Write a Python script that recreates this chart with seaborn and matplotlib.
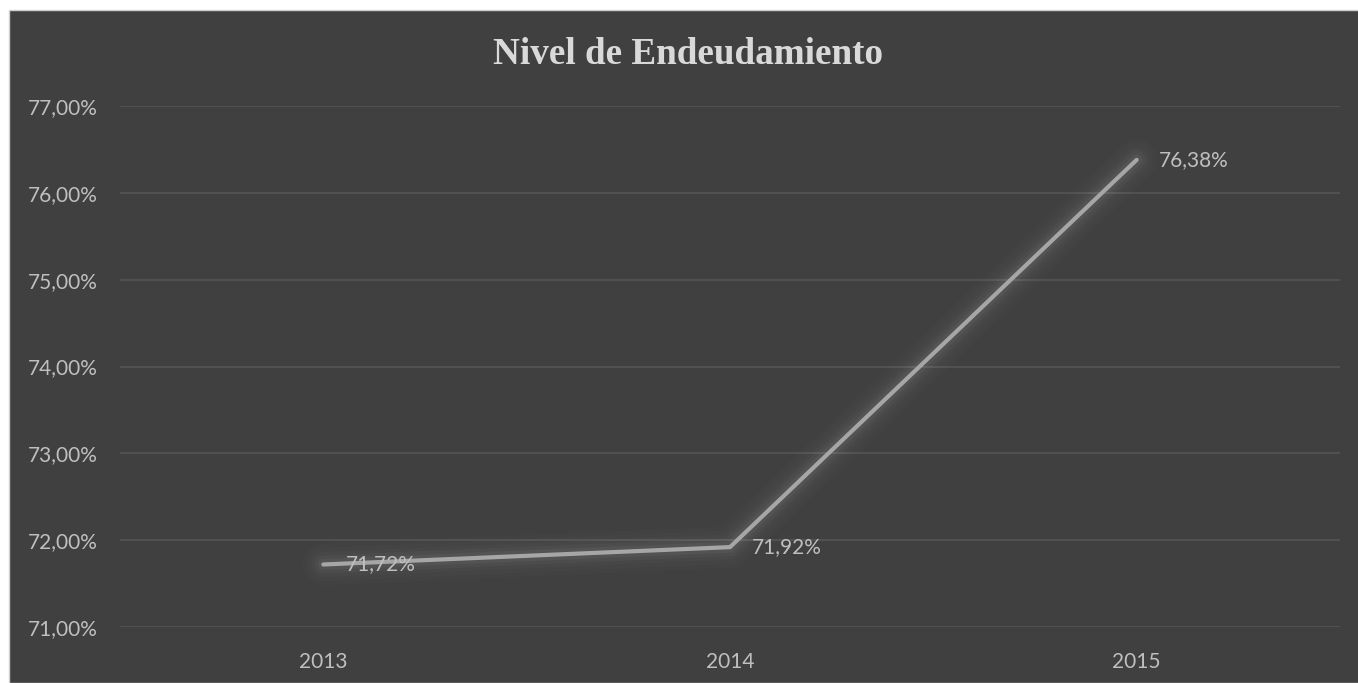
import pandas as pd
import matplotlib
matplotlib.use('Agg')
import matplotlib.pyplot as plt
import matplotlib.patheffects as pe
from matplotlib.patches import Rectangle
from matplotlib.ticker import FuncFormatter, MultipleLocator
import seaborn as sns

# Datos del gráfico
anios = ['2013', '2014', '2015']
endeudamiento = [71.72, 71.92, 76.38]
etiquetas = ['71,72%', '71,92%', '76,38%']

df = pd.DataFrame({'anio': anios, 'valor': endeudamiento})

fondo = '#404040'
texto = '#bfbfbf'

sns.set_theme(style='dark')
plt.rcParams['font.family'] = ['Lato', 'DejaVu Sans']

fig = plt.figure(figsize=(13.58, 6.83), dpi=100)
fig.patch.set_facecolor('white')

# Marco oscuro del gráfico (detrás de los ejes)
fig.patches.append(Rectangle((9 / 1358, 0), 1, 673 / 683, transform=fig.transFigure,
                             facecolor=fondo, edgecolor='#d0d0d0', linewidth=1, zorder=-10))

ax = fig.add_axes([120 / 1358, 56 / 683, 1220 / 1358, 521 / 683])
ax.set_facecolor(fondo)

sns.lineplot(data=df, x='anio', y='valor', ax=ax, color='#a6a6a6', linewidth=3,
             sort=False, zorder=3)
linea = ax.lines[0]
linea.set_solid_capstyle('round')
linea.set_solid_joinstyle('miter')
linea.set_path_effects([
    pe.Stroke(linewidth=30, foreground='white', alpha=0.012),
    pe.Stroke(linewidth=24, foreground='white', alpha=0.015),
    pe.Stroke(linewidth=18, foreground='white', alpha=0.02),
    pe.Stroke(linewidth=13, foreground='white', alpha=0.03),
    pe.Stroke(linewidth=8, foreground='white', alpha=0.04),
    pe.Normal(),
])

# Etiquetas de datos
for i, (v, t) in enumerate(zip(endeudamiento, etiquetas)):
    ax.annotate(t, (i, v), xytext=(16, 0), textcoords='offset points',
                ha='left', va='center', color=texto, fontsize=15, zorder=4)

ax.set_xlim(-0.5, 2.5)
ax.set_ylim(71, 77)
ax.yaxis.set_major_locator(MultipleLocator(1))
ax.yaxis.set_major_formatter(FuncFormatter(lambda v, p: f'{v:.2f}%'.replace('.', ',')))
ax.grid(axis='y', color='#555555', linewidth=1.2)
ax.grid(axis='x', visible=False)
ax.set_axisbelow(True)
for s in ax.spines.values():
    s.set_visible(False)

ax.tick_params(axis='both', length=0, colors=texto, labelsize=15)
ax.tick_params(axis='y', pad=16)
ax.tick_params(axis='x', pad=18)
ax.set_xlabel('')
ax.set_ylabel('')

fig.text(688 / 1358, (683 - 64) / 683, 'Nivel de Endeudamiento', ha='center', va='baseline',
         fontsize=26.7, fontweight='bold', color='#d9d9d9', family='Liberation Serif')

fig.savefig('out.png', dpi=100, facecolor=fig.get_facecolor())
